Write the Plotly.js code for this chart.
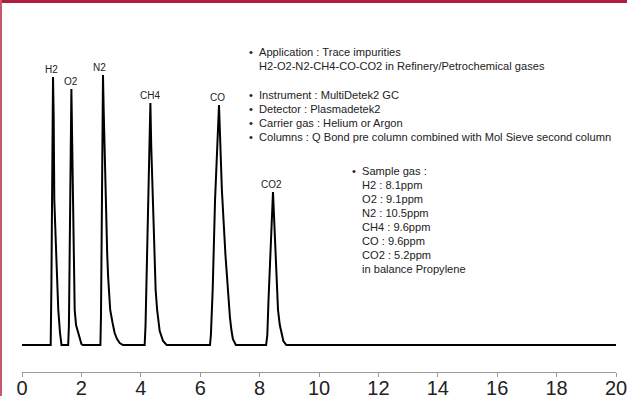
<!DOCTYPE html>
<html>
<head>
<meta charset="utf-8">
<script src="https://cdn.plot.ly/plotly-3.0.1.min.js"></script>
<style>
  html, body { margin: 0; padding: 0; background: #ffffff; }
  #chart { width: 627px; height: 396px; }
</style>
</head>
<body>
<div id="chart"></div>
<script>
// Retention time (min) and detector signal (arbitrary units)
const time = [
  0.00,
  0.966, 0.99, 1.044, 1.067, 1.088, 1.16, 1.222, 1.28, 1.33,
  1.555, 1.58, 1.663, 1.69, 1.71, 1.74, 1.774, 1.82, 1.886, 1.95, 2.00, 2.04,
  2.64, 2.66, 2.727, 2.75, 2.81, 2.87, 2.90, 2.97, 3.05, 3.12, 3.20, 3.29, 3.40,
  4.13, 4.16, 4.253, 4.323, 4.35, 4.40, 4.45, 4.50, 4.55, 4.636, 4.75, 4.87,
  6.33, 6.36, 6.42, 6.50, 6.633, 6.73, 6.85, 6.936, 7.00, 7.05, 7.10, 7.20,
  8.22, 8.26, 8.30, 8.451, 8.50, 8.56, 8.62, 8.68, 8.734, 8.80, 8.90,
  20.00
];
const signal = [
  0,
  0, 60, 268, 228, 145, 85, 35, 12, 0,
  0, 20, 256, 200, 145, 85, 35, 20, 12, 5, 1, 0,
  0, 30, 270, 235, 150, 90, 68, 35, 22, 12, 6, 2, 0,
  0, 20, 145, 242, 200, 145, 90, 55, 35, 14, 4, 0,
  0, 10, 55, 145, 240, 155, 90, 50, 28, 15, 6, 0,
  0, 10, 45, 153, 120, 75, 35, 20, 12, 4, 0,
  0
];

const peakNames   = ['H2', 'O2', 'N2', 'CH4', 'CO', 'CO2'];
const peakTimes   = [1.044, 1.663, 2.727, 4.323, 6.633, 8.451];
const peakHeights = [268, 256, 270, 242, 240, 153];

const xTicks = [0, 2, 4, 6, 8, 10, 12, 14, 16, 18, 20];
const xTickText = ['0', '2', '4', '6', '8', '10', '12', '14', '16', '18', '20'];

const infoLines = [
  'Application : Trace impurities',
  'H2-O2-N2-CH4-CO-CO2 in Refinery/Petrochemical gases',
  'Instrument : MultiDetek2 GC',
  'Detector : Plasmadetek2',
  'Carrier gas : Helium or Argon',
  'Columns : Q Bond pre column combined with Mol Sieve second column'
];
const infoBullets = [true, false, true, true, true, true];

const sampleLines = [
  'Sample gas :',
  'H2 : 8.1ppm',
  'O2 : 9.1ppm',
  'N2 : 10.5ppm',
  'CH4 : 9.6ppm',
  'CO : 9.6ppm',
  'CO2 : 5.2ppm',
  'in balance Propylene'
];
const sampleBullets = [true, false, false, false, false, false, false, false];

// ---- layout helpers (page pixels -> paper coords) ----
const L = 22, R = 11, T = 0, B = 24, W = 627, H = 396;
const PW = W - L - R, PH = H - T - B;
const px = v => (v - L) / PW;
const py = v => (H - B - v) / PH;

const FONT = '"Liberation Sans", Arial, sans-serif';
const annotations = [];

// peak labels
const labelShift = [-2, 0, -3, 0, -2, -1];
peakNames.forEach((n, i) => {
  annotations.push({
    x: peakTimes[i], y: peakHeights[i], xref: 'x', yref: 'y',
    text: n, showarrow: false, xanchor: 'center', yanchor: 'bottom',
    xshift: labelShift[i], yshift: 0,
    font: { family: FONT, size: 10, color: '#222' }
  });
});

// info block
const infoY = [52, 66, 95, 109, 123, 137];
infoLines.forEach((t, i) => {
  annotations.push({
    x: px(257), y: py(infoY[i]), xref: 'paper', yref: 'paper',
    text: t, showarrow: false, xanchor: 'left', yanchor: 'middle',
    font: { family: FONT, size: 11.1, color: '#222' }
  });
  if (infoBullets[i]) {
    annotations.push({
      x: px(251), y: py(infoY[i]), xref: 'paper', yref: 'paper',
      text: '•', showarrow: false, xanchor: 'center', yanchor: 'middle',
      font: { family: FONT, size: 11, color: '#222' }
    });
  }
});

// sample block
sampleLines.forEach((t, i) => {
  const yy = 171 + i * 14;
  annotations.push({
    x: px(360), y: py(yy), xref: 'paper', yref: 'paper',
    text: t, showarrow: false, xanchor: 'left', yanchor: 'middle',
    font: { family: FONT, size: 11.1, color: '#222' }
  });
  if (sampleBullets[i]) {
    annotations.push({
      x: px(354), y: py(yy), xref: 'paper', yref: 'paper',
      text: '•', showarrow: false, xanchor: 'center', yanchor: 'middle',
      font: { family: FONT, size: 11, color: '#222' }
    });
  }
});

const shapes = [
  { type: 'rect', xref: 'paper', yref: 'paper',
    x0: px(0), x1: px(W), y0: py(3), y1: py(0),
    fillcolor: '#b01c3b', line: { width: 0 } },
  { type: 'rect', xref: 'paper', yref: 'paper',
    x0: px(0), x1: px(2), y0: py(H), y1: py(0),
    fillcolor: '#c9566f', line: { width: 0 } }
];

const trace = {
  x: time, y: signal, type: 'scatter', mode: 'lines',
  line: { color: '#000000', width: 2 },
  hoverinfo: 'skip'
};

const layout = {
  width: W, height: H,
  margin: { l: L, r: R, t: T, b: B, pad: 0 },
  paper_bgcolor: '#ffffff', plot_bgcolor: '#ffffff',
  showlegend: false,
  xaxis: {
    range: [0, 20], tickvals: xTicks, ticktext: xTickText,
    showgrid: false, zeroline: false,
    showline: true, linecolor: '#9a9a9a', linewidth: 1,
    ticks: 'outside', ticklen: 4, tickcolor: '#9a9a9a', tickwidth: 1,
    tickfont: { family: FONT, size: 20, color: '#222' },
    ticklabelstandoff: -6,
    ticklabeloverflow: 'allow',
    fixedrange: true
  },
  yaxis: {
    range: [-27, 345], visible: false, fixedrange: true
  },
  annotations: annotations,
  shapes: shapes
};

Plotly.newPlot('chart', [trace], layout, { displayModeBar: false, staticPlot: true });
</script>
</body>
</html>
